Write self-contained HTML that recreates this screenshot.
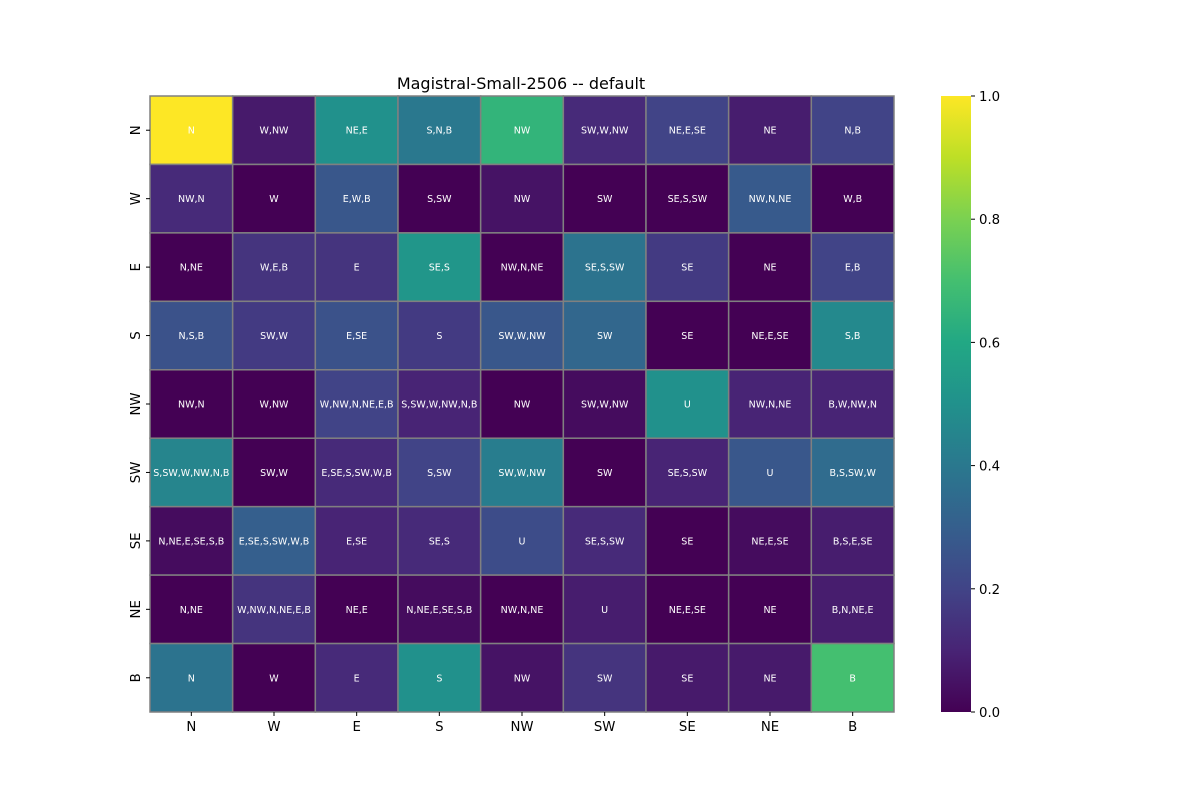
<!DOCTYPE html>
<html><head><meta charset="utf-8"><style>
body{margin:0;background:#fff;font-family:"DejaVu Sans","Liberation Sans",sans-serif}
svg text{font-family:"DejaVu Sans","Liberation Sans",sans-serif}
</style></head><body>
<svg id="chart" width="1200" height="800" xmlns="http://www.w3.org/2000/svg">
<defs><linearGradient id="vir" x1="0" y1="1" x2="0" y2="0">
<stop offset="0" stop-color="#440154"/><stop offset="0.1" stop-color="#482475"/><stop offset="0.2" stop-color="#414487"/><stop offset="0.3" stop-color="#355f8d"/><stop offset="0.4" stop-color="#2a788e"/><stop offset="0.5" stop-color="#21918c"/><stop offset="0.6" stop-color="#22a884"/><stop offset="0.7" stop-color="#44bf70"/><stop offset="0.8" stop-color="#7ad151"/><stop offset="0.9" stop-color="#bddf26"/><stop offset="1" stop-color="#fde725"/>
</linearGradient></defs>
<text x="521" y="89" font-size="16" text-anchor="middle">Magistral-Small-2506 -- default</text>
<g id="cells"></g><g id="axes"></g>
<rect x="941" y="96" width="30" height="616" fill="url(#vir)"/>
<g id="cbticks"></g>
</svg>
<script>
const rowLabels=["N","W","E","S","NW","SW","SE","NE","B"];
const colLabels=["N","W","E","S","NW","SW","SE","NE","B"];
const values=[
[1.0,0.07,0.5,0.4,0.65,0.12,0.2,0.08,0.2],
[0.12,0.0,0.27,0.0,0.05,0.0,0.0,0.28,0.0],
[0.0,0.15,0.15,0.52,0.0,0.38,0.17,0.0,0.2],
[0.25,0.17,0.25,0.17,0.27,0.33,0.0,0.0,0.47],
[0.0,0.0,0.2,0.1,0.0,0.03,0.5,0.1,0.1],
[0.45,0.0,0.12,0.2,0.42,0.0,0.1,0.27,0.35],
[0.03,0.3,0.1,0.12,0.23,0.12,0.0,0.03,0.08],
[0.0,0.15,0.0,0.03,0.0,0.08,0.0,0.0,0.08],
[0.38,0.0,0.12,0.5,0.05,0.15,0.07,0.07,0.7]];
const annotations=[
["N","W,NW","NE,E","S,N,B","NW","SW,W,NW","NE,E,SE","NE","N,B"],
["NW,N","W","E,W,B","S,SW","NW","SW","SE,S,SW","NW,N,NE","W,B"],
["N,NE","W,E,B","E","SE,S","NW,N,NE","SE,S,SW","SE","NE","E,B"],
["N,S,B","SW,W","E,SE","S","SW,W,NW","SW","SE","NE,E,SE","S,B"],
["NW,N","W,NW","W,NW,N,NE,E,B","S,SW,W,NW,N,B","NW","SW,W,NW","U","NW,N,NE","B,W,NW,N"],
["S,SW,W,NW,N,B","SW,W","E,SE,S,SW,W,B","S,SW","SW,W,NW","SW","SE,S,SW","U","B,S,SW,W"],
["N,NE,E,SE,S,B","E,SE,S,SW,W,B","E,SE","SE,S","U","SE,S,SW","SE","NE,E,SE","B,S,E,SE"],
["N,NE","W,NW,N,NE,E,B","NE,E","N,NE,E,SE,S,B","NW,N,NE","U","NE,E,SE","NE","B,N,NE,E"],
["N","W","E","S","NW","SW","SE","NE","B"]];
const cbTicks=[0,0.2,0.4,0.6,0.8,1.0];
const X0=150,X1=894,Y0=96,Y1=712;
const cw=(X1-X0)/colLabels.length, ch=(Y1-Y0)/rowLabels.length;
const xPos=i=>X0+i*cw, yPos=j=>Y0+j*ch, cbY=v=>Y1-v*(Y1-Y0);
const stops=["#440154","#482475","#414487","#355f8d","#2a788e","#21918c","#22a884","#44bf70","#7ad151","#bddf26","#fde725"].map(h=>[1,3,5].map(k=>parseInt(h.substr(k,2),16)));
function vir(v){v=Math.max(0,Math.min(1,v))*10;const i=Math.min(9,Math.floor(v)),t=v-i;const a=stops[i],b=stops[i+1];return `rgb(${a.map((c,k)=>Math.round(c+(b[k]-c)*t)).join(",")})`;}
const NS="http://www.w3.org/2000/svg";
function mk(tag,attrs,parent,txt){const e=document.createElementNS(NS,tag);for(const k in attrs)e.setAttribute(k,attrs[k]);if(txt!==undefined)e.textContent=txt;parent.appendChild(e);return e;}
const cells=document.getElementById('cells'),axes=document.getElementById('axes'),cb=document.getElementById('cbticks');
values.forEach((row,j)=>row.forEach((v,i)=>{
 const r=mk('rect',{x:xPos(i),y:yPos(j),width:cw,height:ch,fill:vir(v),stroke:'#808080','stroke-width':1.5},cells);
 
 
 const t=mk('text',{x:xPos(i)+cw/2,y:yPos(j)+ch/2+3.5,'font-size':9.5,fill:'#fff','text-anchor':'middle'},cells,annotations[j][i]);
 
 
}));
colLabels.forEach((l,i)=>{const x=xPos(i)+cw/2;mk('line',{x1:x,x2:x,y1:Y1,y2:Y1+4,stroke:'#000'},axes);
 const t=mk('text',{x:x,y:Y1+19,'font-size':13.3,'text-anchor':'middle'},axes,l);
 
 });
rowLabels.forEach((l,j)=>{const y=yPos(j)+ch/2;mk('line',{x1:X0-4,x2:X0,y1:y,y2:y,stroke:'#000'},axes);
 const t=mk('text',{x:0,y:0,'font-size':13.3,'text-anchor':'middle',transform:`translate(${X0-10},${y}) rotate(-90)`},axes,l);
 
 });
cbTicks.forEach(v=>{const y=cbY(v);mk('line',{x1:971,x2:975,y1:y,y2:y,stroke:'#000'},cb);
 const t=mk('text',{x:979,y:y+5,'font-size':13.3},cb,v.toFixed(1));
 
 });
</script>
</body></html>
